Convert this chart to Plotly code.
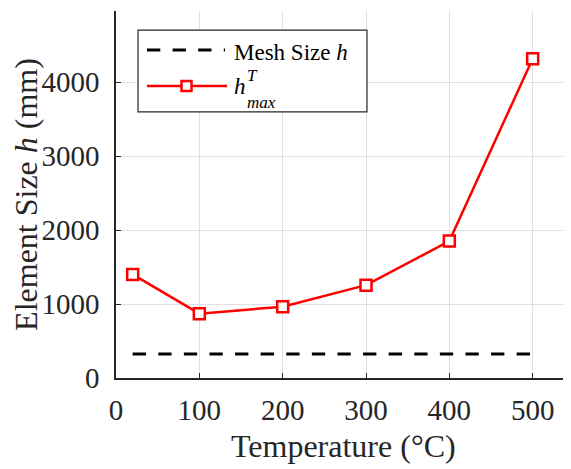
import plotly.graph_objects as go

temps = [20, 100, 200, 300, 400, 500]
h_max = [1400, 870, 963, 1255, 1850, 4315]
mesh_x = [20, 500]
mesh_h = [325, 325]

font = "Liberation Serif, Times New Roman, serif"
dash_pat = "13.3px,12.3px"

fig = go.Figure()
fig.add_trace(go.Scatter(
    x=mesh_x, y=mesh_h, mode="lines", name="Mesh Size h", showlegend=False,
    line=dict(color="black", width=3, dash=dash_pat),
))
fig.add_trace(go.Scatter(
    x=temps, y=h_max, mode="lines+markers", name="h_max^T", showlegend=False,
    line=dict(color="#ff0000", width=2.5),
    marker=dict(symbol="square", size=11, color="white",
                line=dict(color="#ff0000", width=2.5)),
))

# Legend drawn as box + sample lines + texts (paper coordinates)
shapes = [
    dict(type="rect", xref="paper", yref="paper", x0=0.0484, x1=0.5516, y0=0.725, y1=0.948,
         line=dict(color="#262626", width=1.2), fillcolor="white", layer="above"),
    dict(type="line", xref="paper", yref="paper", x0=0.0681, x1=0.2396, y0=0.8937, y1=0.8937,
         line=dict(color="black", width=3, dash=dash_pat), layer="above"),
    dict(type="line", xref="paper", yref="paper", x0=0.0681, x1=0.2440, y0=0.7956, y1=0.7956,
         line=dict(color="#ff0000", width=2.5), layer="above"),
    dict(type="rect", xref="paper", yref="paper", xsizemode="pixel", ysizemode="pixel",
         xanchor=0.155, yanchor=0.7956, x0=-5, x1=5, y0=-5, y1=5,
         line=dict(color="#ff0000", width=2.5), fillcolor="white", layer="above"),
]
annotations = [
    dict(xref="paper", yref="paper", x=0.255, y=0.888, xanchor="left", yanchor="middle",
         text="Mesh Size <i>h</i>", showarrow=False,
         font=dict(family=font, size=23, color="black")),
    dict(xref="paper", yref="paper", x=0.255, y=0.795, xanchor="left", yanchor="middle",
         text="<i>h</i>", showarrow=False,
         font=dict(family=font, size=23, color="black")),
    dict(xref="paper", yref="paper", x=0.283, y=0.824, xanchor="left", yanchor="middle",
         text="<i>T</i>", showarrow=False,
         font=dict(family=font, size=17, color="black")),
    dict(xref="paper", yref="paper", x=0.283, y=0.752, xanchor="left", yanchor="middle",
         text="<i>max</i>", showarrow=False,
         font=dict(family=font, size=17, color="black")),
    dict(xref="paper", yref="paper", x=0.5, y=-0.185, xanchor="center", yanchor="middle",
         text="Temperature (°C)", showarrow=False,
         font=dict(family=font, size=32, color="#262626")),
]

fig.update_layout(
    width=563, height=461,
    margin=dict(l=108, r=0, t=3, b=91, autoexpand=False),
    paper_bgcolor="white", plot_bgcolor="white",
    font=dict(family=font, size=29, color="#262626"),
    showlegend=False,
    shapes=shapes, annotations=annotations,
    xaxis=dict(
        range=[0, 546], tickvals=[0, 100, 200, 300, 400, 500],
        showgrid=True, gridcolor="#e0e0e0", gridwidth=1,
        showline=True, linecolor="#262626", linewidth=1.5,
        ticks="inside", ticklen=5, tickcolor="#262626",
        zeroline=False, mirror=False, automargin=False,
        ticklabelstandoff=5,
        tickfont=dict(size=29, family=font),
    ),
    yaxis=dict(
        range=[0, 4960], tickvals=[0, 1000, 2000, 3000, 4000],
        showgrid=True, gridcolor="#e0e0e0", gridwidth=1,
        showline=True, linecolor="#262626", linewidth=1.5,
        ticks="inside", ticklen=5, tickcolor="#262626",
        zeroline=False, mirror=False, automargin=False,
        ticklabelstandoff=9,
        title=dict(text="Element Size <i>h</i> (mm)", font=dict(size=32, family=font), standoff=0),
        tickfont=dict(size=29, family=font),
    ),
)

fig.write_html("out.html")
